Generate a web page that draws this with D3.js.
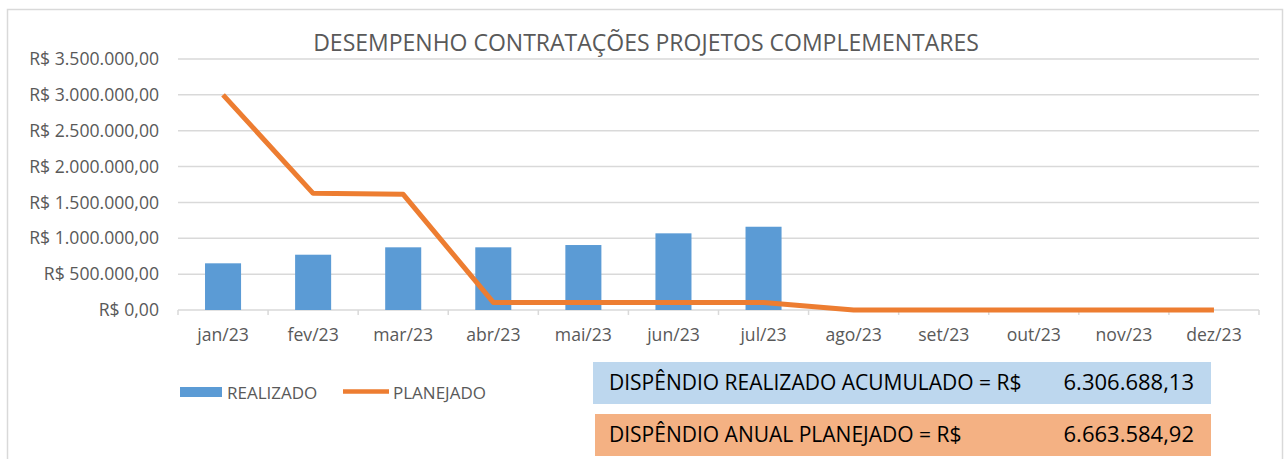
<!DOCTYPE html>
<html>
<head>
<meta charset="utf-8">
<script src="https://cdn.jsdelivr.net/npm/d3@7"></script>
<style>
  body { margin: 0; background: #fff; }
  svg { display: block; font-family: "Open Sans", sans-serif; }
</style>
</head>
<body>
<div id="chart"></div>
<script>
var months = ["jan/23", "fev/23", "mar/23", "abr/23", "mai/23", "jun/23",
              "jul/23", "ago/23", "set/23", "out/23", "nov/23", "dez/23"]
// realizado (bars), only up to jul/23
var realizado = [651000, 771000, 874000, 874000, 906000, 1069000, 1161000]
// planejado (line)
var planejado = [3000000, 1627000, 1613000, 106000, 106000, 106000, 106000, 0, 0, 0, 0, 0]
var yTicks = [0, 500000, 1000000, 1500000, 2000000, 2500000, 3000000, 3500000]
var title = "DESEMPENHO CONTRATAÇÕES PROJETOS COMPLEMENTARES"
var summary = [
    ["DISPÊNDIO REALIZADO ACUMULADO = R$", "6.306.688,13"],
    ["DISPÊNDIO ANUAL PLANEJADO = R$", "6.663.584,92"]
]

var W = 1288, H = 459
var margin = {top: 59, right: 29, bottom: 149, left: 178}
var width = W - margin.left - margin.right,
    height = H - margin.top - margin.bottom

var svg = d3.select("#chart").append("svg")
    .attr("width", W)
    .attr("height", H)

// chart border
svg.append("rect")
    .attr("x", 7.5).attr("y", 9.5)
    .attr("width", 1275).attr("height", 470)
    .attr("fill", "none")
    .attr("stroke", "#d9d9d9")
    .attr("stroke-width", 1.5)

svg.append("text")
    .attr("x", 646)
    .attr("y", 51)
    .attr("text-anchor", "middle")
    .attr("fill", "#595959")
    .style("font-size", "23px")
    .text(title)

var g = svg.append("g")
    .attr("transform", "translate(" + margin.left + "," + margin.top + ")")

var x = d3.scaleBand()
    .domain(months)
    .range([0, width])
    .paddingInner(0.6)
    .paddingOuter(0.3)

var y = d3.scaleLinear()
    .domain([0, 3500000])
    .range([height, 0])

var fmt = function(v) {
    if (v == 0) return "R$ 0,00"
    return "R$ " + d3.format(",")(v).replace(/,/g, ".") + ",00"
}

// gridlines
g.append("g")
    .selectAll("line")
    .data(yTicks.slice(1))
    .join("line")
    .attr("x1", 0).attr("x2", width)
    .attr("y1", d => y(d)).attr("y2", d => y(d))
    .attr("stroke", "#d9d9d9")
    .attr("stroke-width", 1.5)

var yAxis = g.append("g")
    .call(d3.axisLeft(y).tickValues(yTicks).tickFormat(fmt).tickSize(0).tickPadding(19))
yAxis.select(".domain").remove()
yAxis.selectAll("text")
    .attr("fill", "#595959")
    .style("font-size", "17.6px")
    .style("font-family", "Open Sans")

// x axis line and category ticks
g.append("line")
    .attr("x1", 0).attr("x2", width)
    .attr("y1", height).attr("y2", height)
    .attr("stroke", "#d9d9d9")
    .attr("stroke-width", 1.5)
g.append("g")
    .selectAll("line")
    .data(d3.range(months.length + 1))
    .join("line")
    .attr("x1", i => x.range()[0] + i * x.step())
    .attr("x2", i => x.range()[0] + i * x.step())
    .attr("y1", height).attr("y2", height + 5)
    .attr("stroke", "#d9d9d9")
    .attr("stroke-width", 1.5)

var xAxis = g.append("g")
    .attr("transform", `translate(0, ${height})`)
    .call(d3.axisBottom(x).tickSize(0).tickPadding(19))
xAxis.select(".domain").remove()
xAxis.selectAll("text")
    .attr("fill", "#595959")
    .style("font-size", "17.6px")
    .style("font-family", "Open Sans")

// bars
g.append("g")
    .selectAll("rect")
    .data(realizado)
    .join("rect")
    .attr("x", (d, i) => x(months[i]))
    .attr("y", d => y(d))
    .attr("width", x.bandwidth())
    .attr("height", d => height - y(d))
    .attr("fill", "#5b9bd5")

// line
var line = d3.line()
    .x((d, i) => x(months[i]) + x.bandwidth() / 2)
    .y(d => y(d))
g.append("path")
    .datum(planejado)
    .attr("d", line)
    .attr("fill", "none")
    .attr("stroke", "#ed7d31")
    .attr("stroke-width", 5)
    .attr("stroke-linejoin", "round")

// legend
var legend = svg.append("g")
legend.append("rect")
    .attr("x", 180).attr("y", 387)
    .attr("width", 42).attr("height", 10)
    .attr("fill", "#5b9bd5")
legend.append("text")
    .attr("x", 227).attr("y", 399)
    .attr("fill", "#595959")
    .style("font-size", "17px")
    .text("REALIZADO")
legend.append("line")
    .attr("x1", 343).attr("x2", 389)
    .attr("y1", 391.5).attr("y2", 391.5)
    .attr("stroke", "#ed7d31")
    .attr("stroke-width", 4.5)
legend.append("text")
    .attr("x", 393).attr("y", 399)
    .attr("fill", "#595959")
    .style("font-size", "17px")
    .text("PLANEJADO")

// summary boxes
var boxes = [
    {x: 593, y: 362, fill: "#bdd7ee", base: 390},
    {x: 595, y: 414, fill: "#f4b183", base: 442}
]
boxes.forEach((b, i) => {
    svg.append("rect")
        .attr("x", b.x).attr("y", b.y)
        .attr("width", 1211 - b.x).attr("height", 42)
        .attr("fill", b.fill)
    svg.append("text")
        .attr("x", 609).attr("y", b.base)
        .attr("fill", "#000")
        .style("font-size", "21px")
        .text(summary[i][0])
    svg.append("text")
        .attr("x", 1194).attr("y", b.base)
        .attr("text-anchor", "end")
        .attr("fill", "#000")
        .style("font-size", "22px")
        .text(summary[i][1])
})
</script>
</body>
</html>
